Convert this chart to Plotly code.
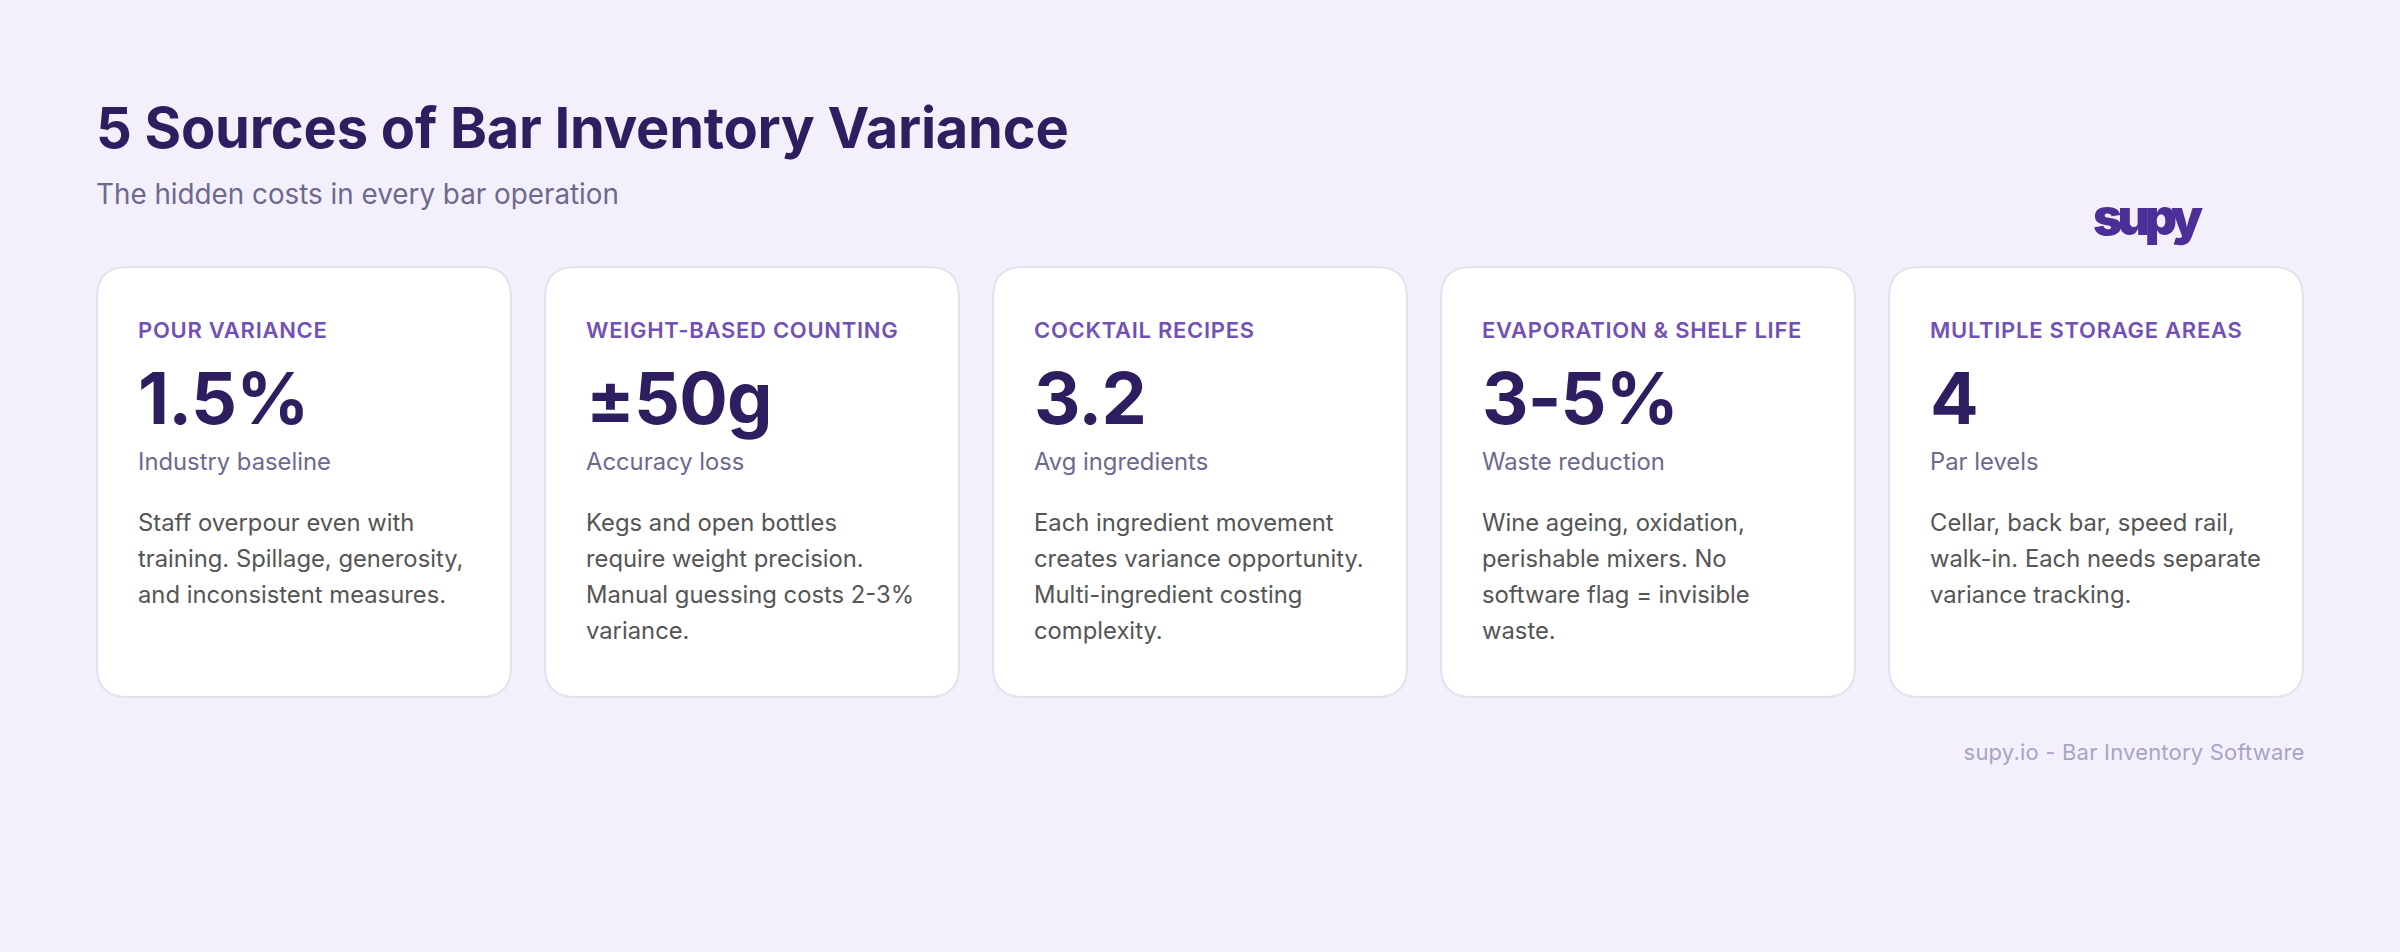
import json
import plotly.graph_objects as go

# card content
categories = ['POUR VARIANCE', 'WEIGHT-BASED COUNTING', 'COCKTAIL RECIPES', 'EVAPORATION & SHELF LIFE', 'MULTIPLE STORAGE AREAS']
stats = ['1.5%', '±50g', '3.2', '3-5%', '4']
stat_labels = ['Industry baseline', 'Accuracy loss', 'Avg ingredients', 'Waste reduction', 'Par levels']
descriptions = [
    ['Staff overpour even with', 'training. Spillage, generosity,', 'and inconsistent measures.'],
    ['Kegs and open bottles', 'require weight precision.', 'Manual guessing costs 2-3%', 'variance.'],
    ['Each ingredient movement', 'creates variance opportunity.', 'Multi-ingredient costing', 'complexity.'],
    ['Wine ageing, oxidation,', 'perishable mixers. No', 'software flag = invisible', 'waste.'],
    ['Cellar, back bar, speed rail,', 'walk-in. Each needs separate', 'variance tracking.'],
]
TITLE = '5 Sources of Bar Inventory Variance'
SUBTITLE = 'The hidden costs in every bar operation'
LOGO = 'supy'
FOOTER = 'supy.io - Bar Inventory Software'

W, H = 2400, 952
BG = '#F4F0FB'
DARK = '#2E1D5F'
MUTED = '#6E6890'
PURPLE = '#7350B5'
BODY = '#555555'
FONT = 'Inter'

CARD_LEFT = [97, 545, 993, 1441, 1889]
CARD_W, CARD_TOP, CARD_BOTTOM, R = 414, 267, 697, 30
PAD = 41


def rounded(x0, y0, x1, y1, r):
    return (f'M{x0+r},{y0} L{x1-r},{y0} Q{x1},{y0} {x1},{y0+r} L{x1},{y1-r} Q{x1},{y1} {x1-r},{y1} '
            f'L{x0+r},{y1} Q{x0},{y1} {x0},{y1-r} L{x0},{y0+r} Q{x0},{y0} {x0+r},{y0} Z')


def label(x, y, text, size, color, weight=400, anchor='left'):
    return dict(x=x, y=y, xref='x', yref='y', text=text, showarrow=False, xanchor=anchor, yanchor='middle',
                align=anchor, borderpad=0, borderwidth=0,
                font=dict(family=FONT, size=size, color=color, weight=weight))


fig = go.Figure()

shapes = []
notes = [
    label(96, 128, TITLE, 56, DARK, 700),
    label(96, 194, SUBTITLE, 27.8, MUTED),
    label(2145, 217, LOGO, 50, '#4B2E96', 900, 'center'),
    label(2305, 752, FOOTER, 22, '#A9A3C6', 400, 'right'),
]

# plotly has no letter spacing option, set it on the svg text after drawing
spacing = {TITLE: -0.25, LOGO: -5, FOOTER: 0.2}

for i, left in enumerate(CARD_LEFT):
    shapes.append(dict(type='path', path=rounded(left, CARD_TOP, left + CARD_W, CARD_BOTTOM, R),
                       xref='x', yref='y', fillcolor='white', line=dict(color='#E5E0F0', width=2), layer='below'))
    x = left + PAD
    notes.append(label(x, 330, categories[i], 22, PURPLE, 600))
    notes.append(label(x, 397, stats[i], 72, DARK, 700))
    notes.append(label(x, 461, stat_labels[i], 23.8, MUTED))
    for j, line in enumerate(descriptions[i]):
        notes.append(label(x, 522 + j * 36, line, 23.8, BODY))
    spacing[categories[i]] = 0.72
    spacing[stats[i]] = -0.8

fig.update_layout(
    width=W, height=H, margin=dict(l=0, r=0, t=0, b=0),
    paper_bgcolor=BG, plot_bgcolor=BG, showlegend=False, hovermode=False,
    xaxis=dict(range=[0, W], visible=False, fixedrange=True),
    yaxis=dict(range=[H, 0], visible=False, fixedrange=True),
    shapes=shapes, annotations=notes,
)

post = """
document.body.style.margin = '0';
var spacing = %s;
document.querySelectorAll('.annotation-text').forEach(function (t) {
    if (t.textContent in spacing) { t.style.letterSpacing = spacing[t.textContent] + 'px'; }
});
""" % json.dumps(spacing)

fig.write_html("out.html", config={'displayModeBar': False}, post_script=post)
